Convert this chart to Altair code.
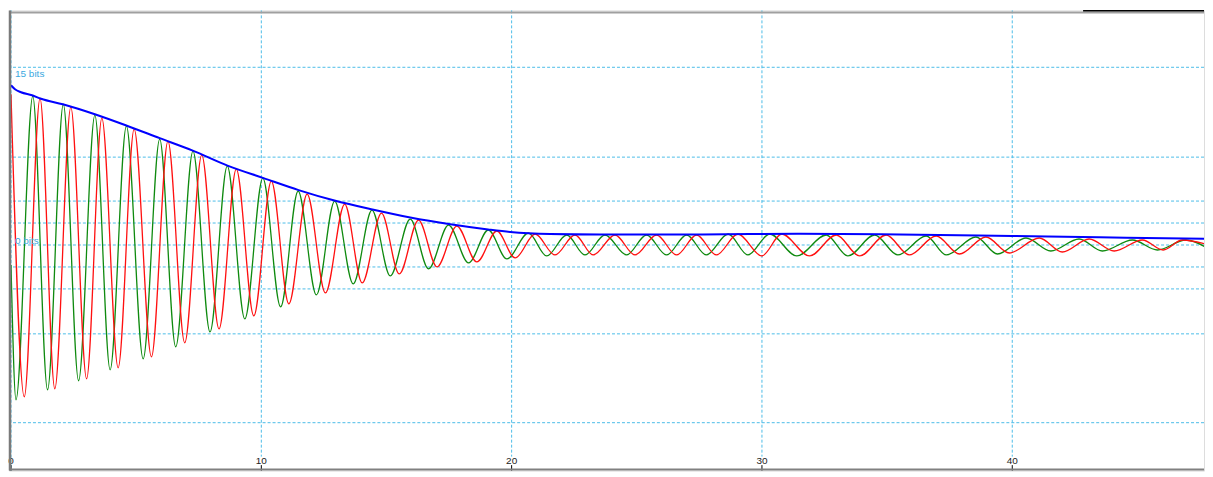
import altair as alt
import pandas as pd

# ---- values (x in time units, y in display level units) ----
green_x = [0.00, 0.20, 0.87, 1.46, 2.09, 2.70, 3.35, 3.96, 4.61, 5.28, 5.94, 6.58, 7.27, 7.95,
           8.64, 9.34, 10.06, 10.77, 11.47, 12.20, 12.93, 13.67, 14.42, 15.15, 15.95, 16.68,
           17.48, 18.28, 19.07, 19.81, 20.67, 21.40, 22.20, 22.93, 23.73, 24.59, 25.39, 26.19,
           26.99, 27.78, 28.65, 29.44, 30.31, 31.39, 32.57, 33.43, 34.50, 35.43, 36.56, 37.36,
           38.55, 39.41, 40.55, 41.54, 42.67, 43.60, 44.80, 45.80, 46.93, 47.86]
green_y = [-20, -155, 149, -145, 141, -136, 130, -125, 119, -114, 106, -102, 94, -87,
           79, -74, 67, -62, 54, -50, 44, -39, 35, -31, 26, -24,
           20, -18, 15, -14, 12, -11, 10, -10, 10, -10, 10, -10,
           10, -10, 11, -10, 11, -11, 10, -11, 10, -10, 9, -10,
           8, -9, 7, -6, 6, -6, 5, -5, 5, -4]

red_x = [0.00, 0.53, 1.16, 1.75, 2.39, 3.02, 3.63, 4.28, 4.92, 5.61, 6.27, 6.94, 7.62, 8.31,
         9.00, 9.70, 10.40, 11.10, 11.83, 12.56, 13.33, 14.03, 14.80, 15.51, 16.28, 17.02,
         17.81, 18.61, 19.41, 20.14, 20.94, 21.73, 22.53, 23.26, 24.13, 24.93, 25.79, 26.59,
         27.39, 28.18, 29.04, 29.99, 30.79, 31.90, 32.97, 33.90, 34.96, 35.89, 36.96, 37.89,
         38.95, 39.88, 41.08, 42.00, 43.07, 44.07, 45.20, 46.03, 46.79, 47.86]
red_y = [151, -152, 147, -144, 138, -134, 127, -123, 116, -112, 104, -98, 90, -84,
         76, -71, 64, -59, 51, -48, 41, -38, 32, -29, 25, -22,
         19, -17, 14, -13, 11, -10, 10, -10, 10, -10, 10, -10,
         10, -10, 11, -11, 11, -11, 10, -11, 10, -10, 9, -9,
         8, -8, 7, -7, 6, -6, 5, -5, 5, 0]

blue_x = [0.00, 0.16, 0.40, 0.84, 1.20, 2.07, 3.35, 4.63, 5.94, 7.26, 8.65, 10.09, 11.49,
          12.92, 14.44, 15.95, 17.55, 19.06, 19.94, 21.54, 23.53, 27.52, 31.51, 35.49,
          40.00, 43.47, 47.86]
blue_y = [160, 156, 153, 150, 146.5, 141, 131, 119.5, 107, 94.5, 79.5, 67, 55,
          44.5, 35.5, 27.5, 20.7, 15.5, 13, 11, 10.5, 10.5, 11.3, 10.5,
          9, 7.7, 6.3]

grid_x = [0, 10, 20, 30, 40]
grid_levels = [178, 88, 44, 22, 0, -22, -44, -89, -178]
tick_labels = ["0", "10", "20", "30", "40"]
level_labels = ["15 bits", "0 bits"]
level_label_x = [0.16, 0.16]
level_label_y = [171, 4]

X_DOMAIN = [-0.08, 47.66]
Y_DOMAIN = [-226, 235]
GRID_TOP = 235
GRID_BOTTOM = -212
TICK_LABEL_Y = -216
TICK_TOP = -220.5
GRID_COLOR = "#4cbde8"

xs = alt.Scale(domain=X_DOMAIN, nice=False, zero=False)
ys = alt.Scale(domain=Y_DOMAIN, nice=False, zero=False)


def X(field):
    return alt.X(field, type="quantitative", scale=xs, axis=None)


def Y(field):
    return alt.Y(field, type="quantitative", scale=ys, axis=None)


green = pd.DataFrame({"x": green_x, "y": green_y})
red = pd.DataFrame({"x": red_x, "y": red_y})
blue = pd.DataFrame({"x": blue_x, "y": blue_y})

hgrid = alt.Chart(pd.DataFrame({"y": grid_levels})).mark_rule(
    color=GRID_COLOR, strokeDash=[3, 2], strokeWidth=1
).encode(y=Y("y"))

vgrid_df = pd.DataFrame({
    "x": grid_x,
    "y1": [GRID_TOP] * len(grid_x),
    "y2": [Y_DOMAIN[0] if g == 0 else GRID_BOTTOM for g in grid_x],
})
vgrid = alt.Chart(vgrid_df).mark_rule(
    color=GRID_COLOR, strokeDash=[3, 2], strokeWidth=1
).encode(x=X("x"), y=Y("y1"), y2="y2")

ticks_df = pd.DataFrame({
    "x": grid_x, "y1": [TICK_TOP] * len(grid_x), "y2": [Y_DOMAIN[0]] * len(grid_x),
    "label": tick_labels, "ly": [TICK_LABEL_Y] * len(grid_x)})
ticks = alt.Chart(ticks_df).mark_rule(color="#000000", strokeWidth=1).encode(
    x=X("x"), y=Y("y1"), y2="y2")
tick_text = alt.Chart(ticks_df).mark_text(
    fontSize=10, font="Liberation Sans", color="#222222", align="center", baseline="middle"
).encode(x=X("x"), y=Y("ly"), text="label:N")

lbl_df = pd.DataFrame({"x": level_label_x, "y": level_label_y, "t": level_labels})
lvl_text = alt.Chart(lbl_df).mark_text(
    fontSize=10, font="Liberation Sans", color="#3aa8e0", align="left", baseline="middle"
).encode(x=X("x"), y=Y("y"), text="t:N")

line_green = alt.Chart(green).mark_line(
    color="#0f8a0f", strokeWidth=1.3, interpolate="monotone", clip=True
).encode(x=X("x"), y=Y("y"), order="x:Q")
line_red = alt.Chart(red).mark_line(
    color="#ff1010", strokeWidth=1.3, interpolate="monotone", clip=True
).encode(x=X("x"), y=Y("y"), order="x:Q")
line_blue = alt.Chart(blue).mark_line(
    color="#0000ff", strokeWidth=2, interpolate="monotone", clip=True
).encode(x=X("x"), y=Y("y"), order="x:Q")

# frame
frame_h = pd.DataFrame({
    "x1": [X_DOMAIN[0], X_DOMAIN[0], 42.83],
    "x2": [X_DOMAIN[1], X_DOMAIN[1], X_DOMAIN[1]],
    "y": [233, -225, 234.6],
    "c": ["#a0a0a0", "#808080", "#000000"],
    "w": [2, 2, 1.5],
})
frame_top = alt.Chart(frame_h).mark_rule().encode(
    x=X("x1"), x2="x2", y=Y("y"),
    color=alt.Color("c:N", scale=None), strokeWidth=alt.StrokeWidth("w:Q", scale=None))
frame_left = alt.Chart(pd.DataFrame({"x": [-0.04], "y1": [Y_DOMAIN[1]], "y2": [Y_DOMAIN[0]]})).mark_rule(
    color="#7a7a7a", strokeWidth=2.5).encode(x=X("x"), y=Y("y1"), y2="y2")

chart = alt.layer(
    hgrid, vgrid, line_green, line_red, line_blue, ticks, tick_text, lvl_text, frame_top, frame_left
).properties(width=1197, height=461, padding=0).configure_view(strokeWidth=0).configure(
    background="#ffffff")

chart.save("out.html", embed_options={"renderer": "svg", "actions": False})
